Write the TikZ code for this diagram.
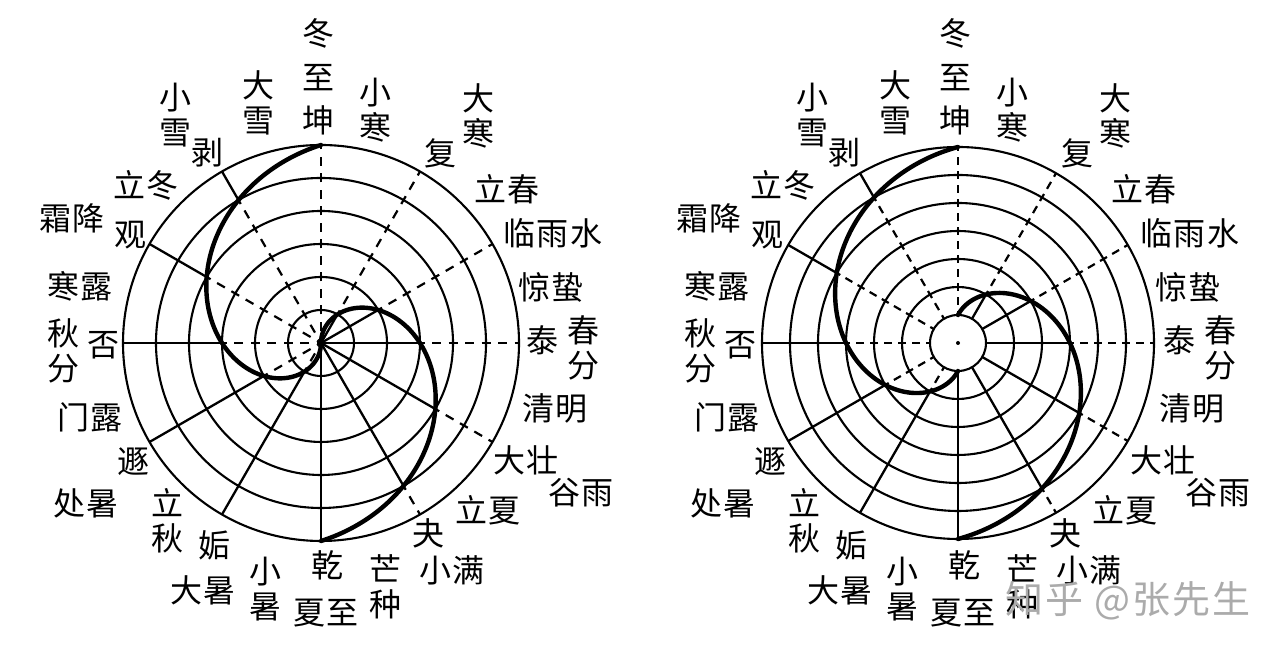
\documentclass[tikz,border=0pt]{standalone}
\usepackage{fontspec}
\newfontfamily\cjk[LetterSpace=6]{Noto Sans CJK SC}
\usepackage{tikz}
\usetikzlibrary{positioning}

\tikzset{
  ring/.style={black, line width=2.1pt},
  yang/.style={black, line width=2.3pt},
  yin/.style={black, line width=2.2pt, dash pattern=on 9pt off 7.5pt, dash phase=4.5pt},
  yin small/.style={yin, dash pattern=on 8pt off 6pt, dash phase=4pt},
  spiral/.style={black, line width=4.4pt, line cap=round},
  qi/.style={font=\cjk\fontsize{32}{35}\selectfont, align=center, inner sep=0pt},
  shuiyin/.style={font=\cjk\fontsize{38}{40}\selectfont, text=black!33, inner sep=0pt}
}

% jieqi and gua names round one wheel
\newcommand{\qilabels}{%
  \node[qi] (dongzhi) at (-3,288) {冬\\[9pt]至};
  \node[qi] (kun) at (-3,223) {坤};
  \node[qi] (daxue) at (-63,240) {大\\雪};
  \node[qi] (xiaoxue) at (-146,228) {小\\雪};
  \node[qi] (bo) at (-114,190) {剥};
  \node[qi] (xiaohan) at (54,233) {小\\寒};
  \node[qi] (dahan) at (157,227) {大\\寒};
  \node[qi] (fu) at (119,190) {复};
  \node[qi] (lichun) at (186,154) {立春};
  \node[qi] (yushui) at (232,110) {临雨水};
  \node[qi] (jingzhe) at (230,56) {惊蛰};
  \node[qi] (tai) at (221,3) {泰};
  \node[qi] (chunfen) at (262,-5) {春\\分};
  \node[qi] (qingming) at (234,-65) {清明};
  \node[qi] (dazhuang) at (205,-117) {大壮};
  \node[qi] (guyu) at (260,-150) {谷雨};
  \node[qi] (lixia) at (167,-167) {立夏};
  \node[qi] (guai) at (107,-190) {夬};
  \node[qi] (xiaoman) at (131,-227) {小满};
  \node[qi] (mangzhong) at (64,-244) {芒\\种};
  \node[qi] (qian) at (6,-222) {乾};
  \node[qi] (xiazhi) at (5,-270) {夏至};
  \node[qi] (xiaoshu) at (-56,-246) {小\\暑};
  \node[qi] (gou) at (-107,-202) {姤};
  \node[qi] (dashu) at (-118,-247) {大暑};
  \node[qi] (liqiu) at (-154,-178) {立\\秋};
  \node[qi] (dun) at (-188,-119) {遯};
  \node[qi] (chushu) at (-235,-160) {处暑};
  \node[qi] (bailu) at (-231,-74) {门露};
  \node[qi] (qiufen) at (-258,-8) {秋\\分};
  \node[qi] (pi) at (-218,-2) {否};
  \node[qi] (hanlu) at (-241,57) {寒露};
  \node[qi] (shuangjiang) at (-249,125) {霜降};
  \node[qi] (guan) at (-191,108) {观};
  \node[qi] (lidong) at (-175,158) {立冬};
}

\begin{document}
\begin{tikzpicture}[x=1pt, y=1pt]
\useasboundingbox (0,0) rectangle (1280,652);

% left wheel, lines run into the centre
\begin{scope}[shift={(321,309)}, name prefix=L-]
  \foreach \r in {33,66,...,198}
    \draw[ring] (0,0) circle (\r pt);
  \foreach \a/\k in {90/0,60/1,30/2,0/3,-30/4,-60/5,-90/6}{
    \draw[yang] (\a:0) -- (\a:{33*\k});
    \draw[yin] (\a:{33*\k}) -- (\a:198);
  }
  \foreach \a/\k in {-120/1,-150/2,180/3,150/4,120/5}{
    \draw[yin] (\a:0) -- (\a:{33*\k});
    \draw[yang] (\a:{33*\k}) -- (\a:198);
  }
  \draw[spiral] plot[domain=0:180, samples=91, smooth] ({90-\x}:{1.1*\x});
  \draw[spiral] plot[domain=0:180, samples=91, smooth] ({270-\x}:{1.1*\x});
  \qilabels
\end{scope}

% right wheel, with an empty middle
\begin{scope}[shift={(958,309)}, name prefix=R-]
  \foreach \r in {28,56,...,196}
    \draw[ring] (0,0) circle (\r pt);
  \fill (0,0) circle (2pt);
  \foreach \a/\k in {90/0,60/1,30/2,0/3,-30/4,-60/5,-90/6}{
    \draw[yang] (\a:28) -- (\a:{28+28*\k});
    \draw[yin small] (\a:{28+28*\k}) -- (\a:196);
  }
  \foreach \a/\k in {-120/1,-150/2,180/3,150/4,120/5}{
    \draw[yin small] (\a:28) -- (\a:{28+28*\k});
    \draw[yang] (\a:{28+28*\k}) -- (\a:196);
  }
  \draw[spiral] plot[domain=0:180, samples=91, smooth] ({90-\x}:{28+0.9333*\x});
  \draw[spiral] plot[domain=0:180, samples=91, smooth] ({270-\x}:{28+0.9333*\x});
  \qilabels
\end{scope}

\node[shuiyin] (zhihu) at (1128,51) {知乎 @张先生};
\end{tikzpicture}
\end{document}
